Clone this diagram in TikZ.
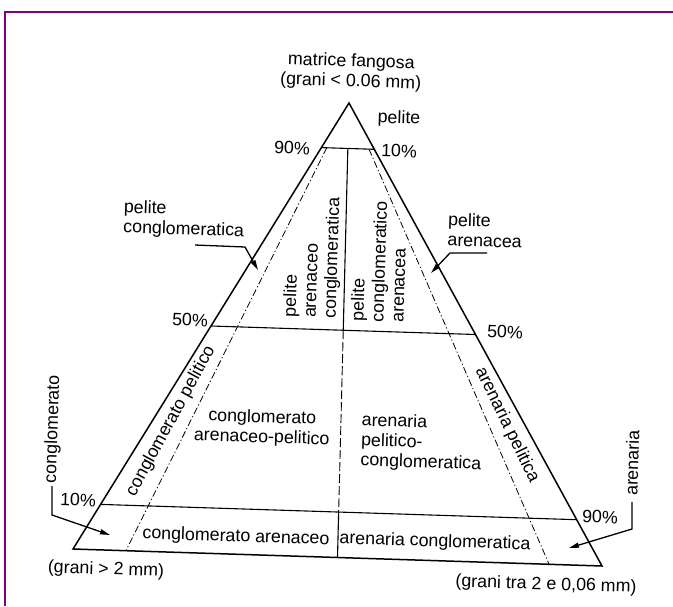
\documentclass[tikz,border=0pt]{standalone}
\usepackage{fontspec}
\setmainfont{Liberation Sans}
\usetikzlibrary{arrows.meta,calc}
\definecolor{framepurple}{RGB}{128,0,128}
\begin{document}
\begin{tikzpicture}[x=1pt,y=1pt,
  txt/.style={font=\fontsize{17.8}{20}\selectfont, inner sep=0pt, rotate=-1.8},
  vtxt/.style={font=\fontsize{17.8}{20}\selectfont, inner sep=0pt, rotate=88.2, align=left, anchor=west},
  slanttxt/.style={font=\fontsize{17.8}{20}\selectfont, inner sep=0pt},
  outline/.style={line width=1.5pt, line join=miter},
  divider/.style={line width=1.1pt},
  ratio/.style={line width=0.8pt, dash pattern=on 7pt off 2.5pt on 1.2pt off 2.5pt},
  ratiodash/.style={line width=0.9pt, dash pattern=on 9pt off 3pt},
  pointerarrow/.style={line width=1.3pt, -{Triangle[length=10pt,width=5pt]}}]

\useasboundingbox (0,0) rectangle (673,-606);
\fill[white] (0,0) rectangle (673,-606);
\draw[framepurple, line width=1.4pt] (5,-606) -- (5,-12) -- (673,-12);

% vertices: mud (top), gravel (left), sand (right)
\coordinate (A) at (349,-103);
\coordinate (L) at (73,-549);
\coordinate (R) at (602,-566);

% ratio points on the base
\coordinate (P1) at ($(L)!0.1!(R)$);
\coordinate (M)  at ($(L)!0.5!(R)$);
\coordinate (P9) at ($(L)!0.9!(R)$);

% percentage levels
\coordinate (L90) at ($(A)!0.1!(L)$);
\coordinate (R90) at ($(A)!0.1!(R)$);
\coordinate (L50) at ($(A)!0.5!(L)$);
\coordinate (R50) at ($(A)!0.5!(R)$);
\coordinate (L10) at ($(A)!0.9!(L)$);
\coordinate (R10) at ($(A)!0.9!(R)$);

% ratio lines, drawn below the 90% level
\coordinate (P1top) at ($(A)!0.1!(P1)$);
\coordinate (P9top) at ($(A)!0.1!(P9)$);
\coordinate (Mtop)  at ($(A)!0.1!(M)$);
\coordinate (Mmid)  at ($(A)!0.5!(M)$);
\coordinate (Mlow)  at ($(A)!0.9!(M)$);

\draw[ratio] (P1top) -- (P1);
\draw[ratio] (P9top) -- (P9);
\draw[divider] (Mtop) -- (Mmid);
\draw[ratiodash] (Mmid) -- (Mlow);
\draw[divider] (Mlow) -- (M);

\draw[divider] (L90) -- (R90);
\draw[divider] (L50) -- (R50);
\draw[divider] (L10) -- (R10);

\draw[outline] (A) -- (L) -- (R) -- cycle;

% corner labels
\node[txt, align=center] (mud) at (351,-72) {matrice fangosa\\(grani < 0.06 mm)};
\node[txt] (grav) at (106,-570) {(grani > 2 mm)};
\node[txt] (sand) at (546,-585) {(grani tra 2 e 0,06 mm)};

% percentages
\node[txt] (p90l) at (292,-148) {90\%};
\node[txt] (p10r) at (399,-151) {10\%};
\node[txt] (p50l) at (190,-320) {50\%};
\node[txt] (p50r) at (505,-332) {50\%};
\node[txt] (p10l) at (78,-500) {10\%};
\node[txt] (p90r) at (600,-517) {90\%};

% field names
\node[txt] (pel) at (399,-119) {pelite};
\node[vtxt] (pac) at (311,-318) {pelite\\arenaceo\\conglomeratica};
\node[vtxt] (pca) at (377,-322) {pelite\\conglomeratico\\arenacea};
\node[slanttxt, rotate=61.5] (cpel) at (171,-421) {conglomerato pelitico};
\node[slanttxt, rotate=-64] (apel) at (507,-425) {arenaria pelitica};
\node[txt, align=center] (cap) at (262,-428) {conglomerato\\arenaceo-pelitico};
\node[txt, align=left] (apc) at (421.5,-443) {arenaria\\pelitico-\\conglomeratica};
\node[txt] (cga) at (236,-537) {conglomerato arenaceo};
\node[txt] (arc) at (435,-542) {arenaria conglomeratica};

% outside labels with pointers
\node[txt, align=left] (pcg) at (184,-220) {pelite\\conglomeratica};
\node[txt, align=left] (par) at (485,-230.5) {pelite\\arenacea};
\node[slanttxt, rotate=88.2] (cgl) at (53,-429) {conglomerato};
\node[slanttxt, rotate=88.2] (are) at (632,-463) {arenaria};

\coordinate (pcgA) at (195,-245);
\coordinate (pcgB) at (245,-247);
\coordinate (pcgT) at (258,-270);
\draw[pointerarrow] (pcgA) -- (pcgB) -- (pcgT);

\coordinate (parA) at (487,-253);
\coordinate (parB) at (450,-253);
\coordinate (parT) at (431,-273);
\draw[pointerarrow] (parA) -- (parB) -- (parT);

\coordinate (cglA) at (52,-486);
\coordinate (cglB) at (52,-515);
\coordinate (cglT) at (110,-535);
\draw[pointerarrow] (cglA) -- (cglB) -- (cglT);

\coordinate (areA) at (632,-502);
\coordinate (areB) at (632,-529);
\coordinate (areT) at (569,-548);
\draw[pointerarrow] (areA) -- (areB) -- (areT);
\end{tikzpicture}
\end{document}
